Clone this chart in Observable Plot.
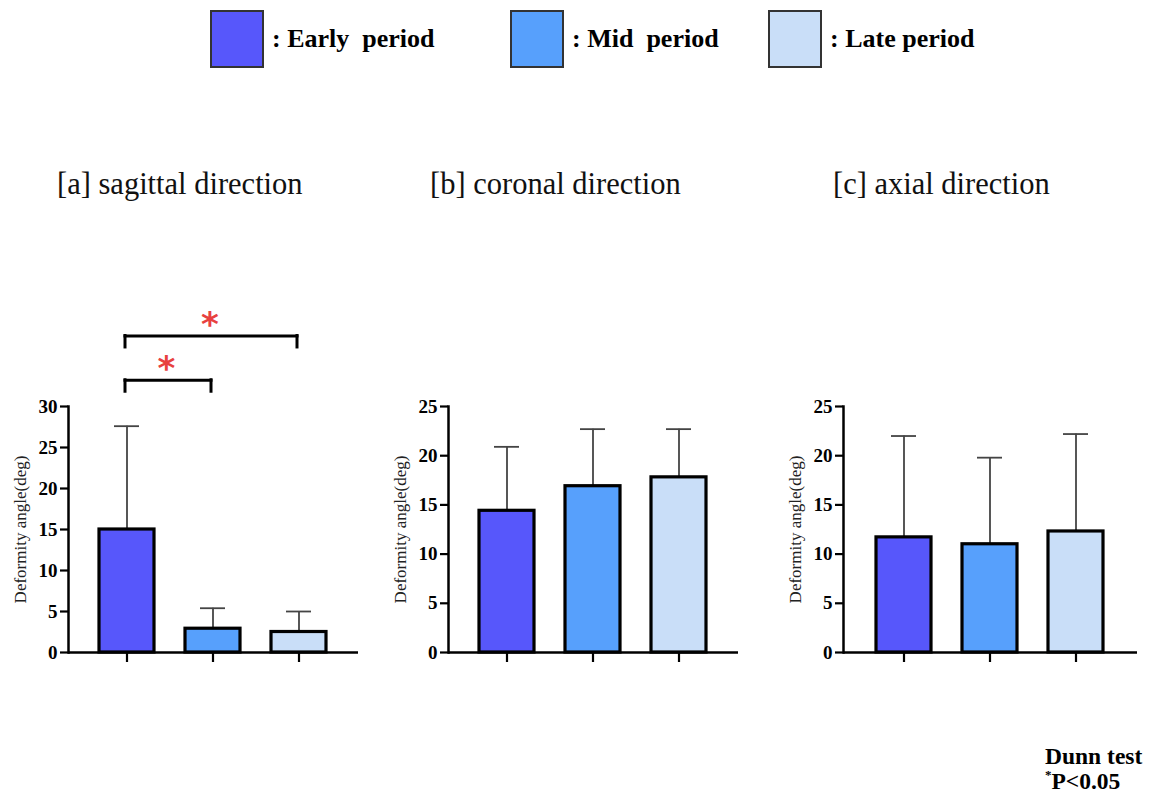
<!DOCTYPE html>
<html>
<head>
<meta charset="utf-8">
<script src="https://cdn.jsdelivr.net/npm/d3@7"></script>
<script src="https://cdn.jsdelivr.net/npm/@observablehq/plot@0.6"></script>
<style>
  html, body { margin: 0; padding: 0; background: #fff; }
  #root { position: relative; width: 1149px; height: 796px; background: #fff; font-family: "Liberation Serif", Tinos, "Times New Roman", "DejaVu Serif", serif; color: #000; overflow: hidden; }
  .panel { position: absolute; }
  .title { position: absolute; font-size: 30.5px; white-space: nowrap; line-height: 1; color: #111; }
  .legsw { position: absolute; width: 50px; height: 54px; border: 2px solid #333; box-sizing: content-box; }
  .legtx { position: absolute; font-size: 26px; font-weight: bold; white-space: pre; line-height: 1; }
  .foot { position: absolute; font-size: 23.5px; font-weight: bold; white-space: nowrap; line-height: 1; }
</style>
</head>
<body>
<div id="root"></div>
<script>
// ---- data ----
const categories = ["Early period", "Mid period", "Late period"];
const colors = ["#5757fb", "#57a0fc", "#c9def8"];
const panelTitles = ["[a] sagittal direction", "[b] coronal direction", "[c] axial direction"];
const sagittalMean = [15.0, 2.9, 2.5];
const sagittalSD = [12.6, 2.5, 2.5];
const coronalMean = [14.4, 16.9, 17.8];
const coronalSD = [6.5, 5.8, 4.9];
const axialMean = [11.7, 11.0, 12.3];
const axialSD = [10.3, 8.8, 9.9];
const ticks30 = [0, 5, 10, 15, 20, 25, 30];
const ticks25 = [0, 5, 10, 15, 20, 25];
const yLabel = "Deformity angle(deg)";
// significance brackets (sagittal only): categories joined, bracket level and leg end (deg units)
const bracketFrom = ["Early period", "Early period"];
const bracketTo = ["Mid period", "Late period"];
const bracketLevel = [33.2, 38.6];
const bracketLeg = [31.8, 37.2];
const footLines = ["Dunn test", "P<0.05"];

const FONT = '"Liberation Serif", Tinos, "Times New Roman", "DejaVu Serif", serif';
const root = document.getElementById("root");

// ---- legend ----
const legendX = [210, 510, 768];
const legendLabels = [": Early  period", ": Mid  period", ": Late period"];
categories.forEach((c, i) => {
  const sw = document.createElement("div");
  sw.className = "legsw";
  sw.style.left = legendX[i] + "px";
  sw.style.top = "10px";
  sw.style.background = colors[i];
  root.appendChild(sw);
  const tx = document.createElement("div");
  tx.className = "legtx";
  tx.style.left = (legendX[i] + 62) + "px";
  tx.style.top = "26px";
  tx.textContent = legendLabels[i];
  root.appendChild(tx);
});

// ---- panel titles ----
const titleX = [57, 430, 833];
panelTitles.forEach((t, i) => {
  const d = document.createElement("div");
  d.className = "title";
  d.style.left = titleX[i] + "px";
  d.style.top = "169px";
  d.textContent = t;
  root.appendChild(d);
});

// ---- panels ----
function panel({mean, sd, ticks, yMax, left, marginLeft, width, pOuter, brackets}) {
  const rows = categories.map((c, i) => ({cat: c, mean: mean[i], top: mean[i] + sd[i], color: colors[i]}));
  const step = 87;
  const marks = [
    Plot.ruleX(rows, {x: "cat", y1: "mean", y2: "top", stroke: "#444", strokeWidth: 1.8}),
    Plot.tickY(rows, {x: "cat", y: "top", stroke: "#444", strokeWidth: 1.8, insetLeft: 15, insetRight: 15}),
    Plot.barY(rows, {x: "cat", y: "mean", fill: "color", stroke: "#000", strokeWidth: 3.2}),
    Plot.ruleY([0], {stroke: "#000", strokeWidth: 2.5}),
    Plot.frame({anchor: "left", stroke: "#000", strokeWidth: 2.5}),
    Plot.axisY({ticks, tickSize: 8, tickPadding: 3, strokeWidth: 2.2, fontSize: 19, fontWeight: "bold", label: null, tickFormat: d => d}),
    Plot.axisX({tickSize: 10, strokeWidth: 2.2, tickFormat: () => "", label: null}),
    Plot.text([yLabel], {frameAnchor: "left", textAnchor: "middle", rotate: -90, dx: -48, text: d => d, fontSize: 17, fill: "#222"})
  ];
  if (brackets) {
    const br = bracketFrom.map((f, i) => ({from: f, to: bracketTo[i], level: bracketLevel[i], leg: bracketLeg[i],
      span: categories.indexOf(bracketTo[i]) - categories.indexOf(f)}));
    const legs = br.flatMap(b => [{x: b.from, y1: b.leg, y2: b.level}, {x: b.to, y1: b.leg, y2: b.level}]);
    marks.push(
      Plot.link(br, {x1: "from", x2: "to", y1: "level", y2: "level", stroke: "#000", strokeWidth: 3, strokeLinecap: "square", dx: -2}),
      Plot.ruleX(legs, {x: "x", y1: "y1", y2: "y2", stroke: "#000", strokeWidth: 3, strokeLinecap: "square", dx: -2}),
      ...br.map(b => Plot.text([b], {x: "from", y: "level", text: () => "*", dx: b.span * step / 2 - 4, dy: -11,
        fill: "#e8413f", fontSize: 34, fontWeight: "bold", fontFamily: "DejaVu Sans", lineAnchor: "middle"}))
    );
  }
  const svg = Plot.plot({
    width, height: 400,
    marginLeft, marginRight: 12, marginTop: 116, marginBottom: 38,
    style: {fontFamily: FONT, background: "transparent", color: "#000", overflow: "visible"},
    x: {type: "band", domain: categories, paddingInner: 0.356, paddingOuter: pOuter, label: null},
    y: {domain: [0, yMax], label: null},
    color: {type: "identity"},
    marks
  });
  svg.classList.add("panel");
  svg.style.left = left + "px";
  svg.style.top = "290px";
  root.appendChild(svg);
}

panel({mean: sagittalMean, sd: sagittalSD, ticks: ticks30, yMax: 30, left: 0, marginLeft: 68, width: 370, pOuter: 0.345, brackets: true});
panel({mean: coronalMean, sd: coronalSD, ticks: ticks25, yMax: 25, left: 380, marginLeft: 68, width: 370, pOuter: 0.345});
panel({mean: axialMean, sd: axialSD, ticks: ticks25, yMax: 25, left: 772, marginLeft: 71, width: 377, pOuter: 0.368});

// ---- footnote ----
const f1 = document.createElement("div");
f1.className = "foot"; f1.style.left = "1045px"; f1.style.top = "745px"; f1.textContent = footLines[0];
root.appendChild(f1);
const f2 = document.createElement("div");
f2.className = "foot"; f2.style.left = "1045px"; f2.style.top = "770px";
f2.innerHTML = '<span style="font-size:13px;vertical-align:top;position:relative;top:-2px">*</span>' + footLines[1];
root.appendChild(f2);
</script>
</body>
</html>
